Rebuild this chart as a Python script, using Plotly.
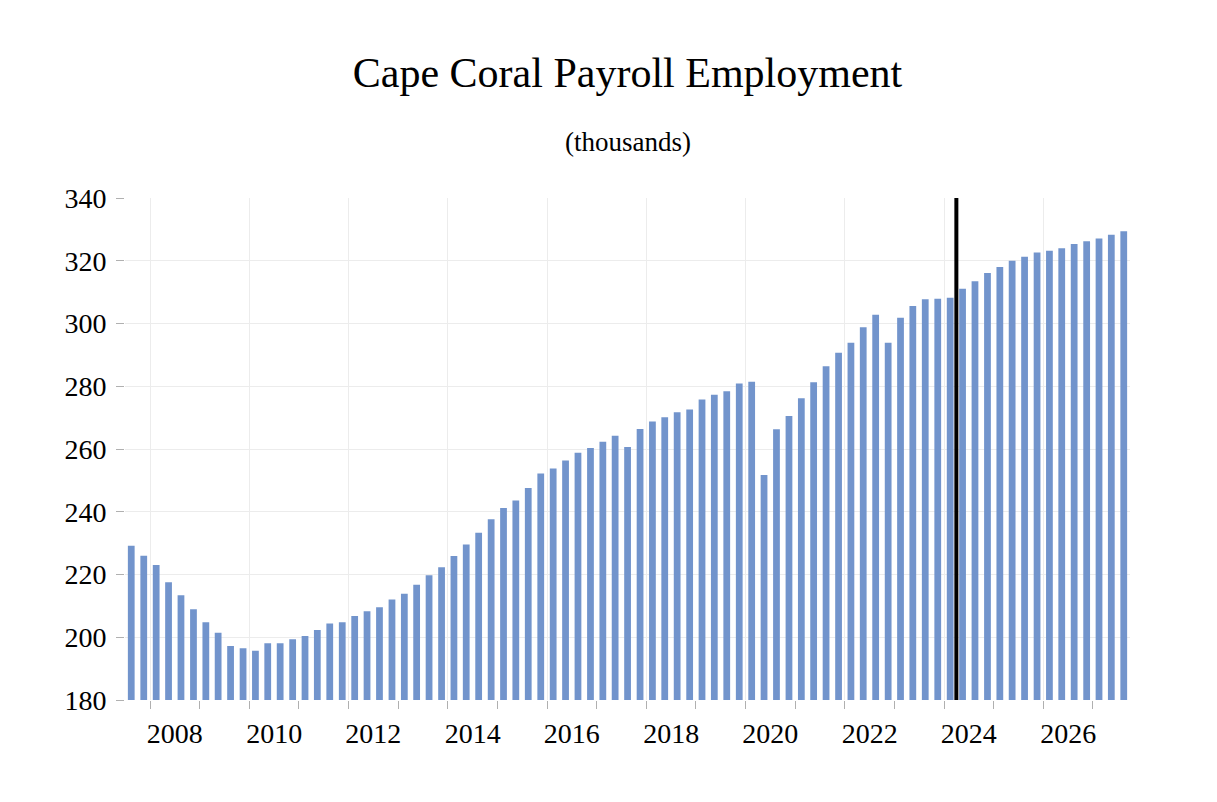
import pandas as pd
import plotly.graph_objects as go

# quarterly payroll employment, thousands (2007 Q3 .. 2027 Q3)
first_quarter = "2007-07-01"
employment = [
    229.2, 226.0, 223.0, 217.5, 213.4, 208.9, 204.8, 201.4,
    197.2, 196.5, 195.7, 198.1, 198.1, 199.4, 200.4, 202.3,
    204.4, 204.8, 206.8, 208.3, 209.6, 212.0, 213.9, 216.7,
    219.8, 222.3, 225.9, 229.6, 233.3, 237.6, 241.2, 243.6,
    247.6, 252.2, 253.8, 256.3, 258.8, 260.3, 262.3, 264.2,
    260.6, 266.4, 268.8, 270.1, 271.7, 272.6, 275.8, 277.3,
    278.4, 280.9, 281.4, 251.7, 266.3, 270.5, 276.2, 281.3,
    286.4, 290.7, 293.9, 298.8, 302.8, 293.9, 301.8, 305.6,
    307.7, 307.9, 308.2, 311.1, 313.5, 316.1, 318.0, 320.0,
    321.3, 322.6, 323.2, 324.0, 325.3, 326.2, 327.1, 328.3,
    329.4,
]
quarters = pd.date_range(first_quarter, periods=len(employment), freq="QS")
forecast_start = "2024-04-01"

x_range = ["2007-07-01", "2027-10-01"]
y_range = [180, 340]

fig = go.Figure()

fig.add_trace(go.Bar(
    x=quarters,
    y=employment,
    xperiod="M3",
    xperiodalignment="middle",
    marker=dict(color="#7294cc", line=dict(width=0)),
    showlegend=False,
))

# history / forecast divider
fig.add_shape(
    type="line",
    xref="x", yref="paper",
    x0=forecast_start, x1=forecast_start, y0=0, y1=1,
    line=dict(color="black", width=4),
)

fig.add_annotation(
    text="(thousands)",
    xref="paper", yref="paper",
    x=0.5, y=1.1116,
    xanchor="center", yanchor="middle",
    showarrow=False,
    font=dict(size=27),
)

fig.update_layout(
    width=1217,
    height=802,
    title=dict(
        text="Cape Coral Payroll Employment",
        x=0.5, xref="paper", xanchor="center",
        y=0.92, yref="container", yanchor="middle",
        font=dict(size=42),
    ),
    font=dict(family="Liberation Serif", color="black"),
    paper_bgcolor="white",
    plot_bgcolor="white",
    margin=dict(l=117, r=95, t=190, b=110),
    bargap=0.45,
    xaxis=dict(
        type="date",
        range=x_range,
        tick0="2008-01-01",
        dtick="M24",
        tickformat="%Y",
        ticklabelmode="period",
        ticks="outside",
        ticklen=8,
        tickcolor="#b0b0b0",
        showgrid=True,
        gridcolor="#ececec",
        minor=dict(dtick="M12", ticks="outside", ticklen=8,
                   tickcolor="#b0b0b0", showgrid=False),
        tickfont=dict(size=28),
        showline=False,
        zeroline=False,
    ),
    yaxis=dict(
        range=y_range,
        dtick=20,
        ticks="outside",
        ticklen=8,
        tickcolor="#b0b0b0",
        showgrid=True,
        gridcolor="#ececec",
        tickfont=dict(size=28),
        ticklabelstandoff=4,
        showline=False,
        zeroline=False,
    ),
)

fig.write_html("out.html")
